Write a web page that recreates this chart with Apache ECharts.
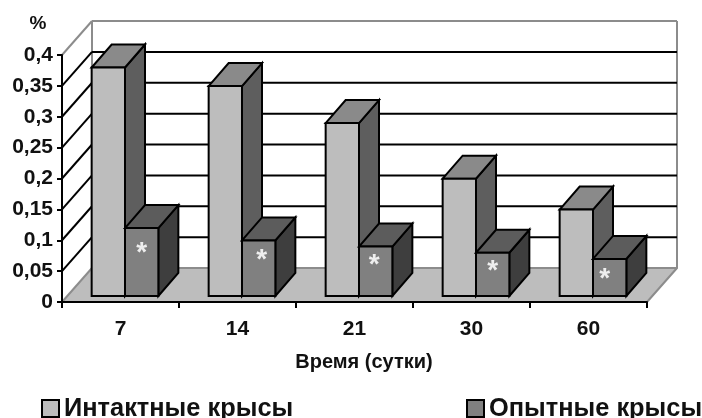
<!DOCTYPE html>
<html>
<head>
<meta charset="utf-8">
<style>html,body{margin:0;padding:0;background:#fff}#chart{width:702px;height:418px}</style>
<script src="https://cdn.jsdelivr.net/npm/echarts@6/dist/echarts.min.js"></script>
</head>
<body>
<div id="chart"></div>
<script>
// Содержание по срокам наблюдения, %
const days = ['7', '14', '21', '30', '60'];
const intact = [0.37, 0.34, 0.28, 0.19, 0.14];
const experimental = [0.11, 0.09, 0.08, 0.07, 0.06];
const valueTicks = [0, 0.05, 0.1, 0.15, 0.2, 0.25, 0.3, 0.35, 0.4];
const seriesNames = ['Интактные крысы', 'Опытные крысы'];

// Oblique projection of the plot box and of the bars inside it
const WALL_DX = 30, WALL_DY = -34;
const BAR_FRONT_DX = 4.5, BAR_FRONT_DY = -6;
const BAR_DEPTH_DX = 20, BAR_DEPTH_DY = -23;
const BAR_BAND_SHARE = 0.285;
const FRAME = '#8c8c8c', INK = '#000';

// Hand placement of the significance marks, per time point
const STAR_SHIFT_X = [0, 3, -1.5, 0, -5];
const STAR_SHIFT_Y = [25, 20, 19, 19, 20];

const FONT = '"Liberation Sans", Arial, sans-serif';

const intactShades = { front: '#bdbdbd', top: '#8a8a8a', side: '#5e5e5e' };
const experimentalShades = { front: '#808080', top: '#5c5c5c', side: '#3e3e3e' };

// One cuboid; side = 0 sits left of the band centre, side = 1 right of it
function renderBar(side, shades, star) {
  return function (params, api) {
    const top = api.coord([api.value(0), api.value(1)]);
    const base = api.coord([api.value(0), 0]);
    const w = api.size([1, 0])[0] * BAR_BAND_SHARE;
    const x0 = top[0] + BAR_FRONT_DX + (side - 1) * w;
    const x1 = x0 + w;
    const yT = top[1] + BAR_FRONT_DY;
    const yB = base[1] + BAR_FRONT_DY;
    const dx = BAR_DEPTH_DX, dy = BAR_DEPTH_DY;
    const edge = { stroke: INK, lineWidth: 2, lineJoin: 'miter' };
    const face = (points, fill) => ({
      type: 'polygon',
      shape: { points },
      style: Object.assign({ fill }, edge)
    });
    const children = [
      face([[x1, yT], [x1 + dx, yT + dy], [x1 + dx, yB + dy], [x1, yB]], shades.side),
      face([[x0, yT], [x0 + dx, yT + dy], [x1 + dx, yT + dy], [x1, yT]], shades.top),
      face([[x0, yT], [x1, yT], [x1, yB], [x0, yB]], shades.front)
    ];
    if (star) {
      const i = params.dataIndex;
      children.push({
        type: 'text',
        style: {
          text: '*',
          x: (x0 + x1) / 2 + STAR_SHIFT_X[i],
          y: yT + STAR_SHIFT_Y[i],
          fill: '#eee',
          align: 'center',
          verticalAlign: 'middle',
          font: 'bold 28px ' + FONT
        }
      });
    }
    return { type: 'group', children };
  };
}

// Back wall gridline plus its slanted continuation on the left wall
function renderWallLine(params, api) {
  const value = api.value(1);
  const p = api.coord([0, value]);
  const cs = params.coordSys;
  const left = cs.x, right = cs.x + cs.width;
  const isEdge = value === 0 || value === 0.4;
  const stroke = isEdge ? FRAME : INK;
  const line = (x1, y1, x2, y2) => ({
    type: 'line',
    shape: { x1, y1, x2, y2 },
    style: { stroke, lineWidth: 2 }
  });
  return {
    type: 'group',
    children: [
      line(left + WALL_DX, p[1] + WALL_DY, right + WALL_DX, p[1] + WALL_DY),
      line(left, p[1], left + WALL_DX, p[1] + WALL_DY)
    ]
  };
}

function renderFloor(params, api) {
  const p = api.coord([0, 0]);
  const cs = params.coordSys;
  const left = cs.x, right = cs.x + cs.width;
  const topY = cs.y + WALL_DY;
  const backX0 = left + WALL_DX, backX1 = right + WALL_DX;
  const backY = p[1] + WALL_DY;
  return {
    type: 'group',
    children: [
      {
        type: 'polygon',
        shape: { points: [[left, p[1]], [backX0, backY], [backX1, backY], [right, p[1]]] },
        style: { fill: '#bdbdbd', stroke: 'none' }
      },
      {
        type: 'polyline',
        shape: { points: [[backX0, backY], [backX0, topY]] },
        style: { stroke: FRAME, lineWidth: 2, fill: 'none' }
      },
      {
        type: 'polyline',
        shape: { points: [[backX1, topY], [backX1, backY], [right, p[1]]] },
        style: { stroke: FRAME, lineWidth: 2, fill: 'none' }
      }
    ]
  };
}

// Each series gets its own legend block, one under each half of the chart
function legendBlock(name, fill, left) {
  return {
    left,
    top: 391,
    padding: 5,
    itemWidth: 17,
    itemHeight: 17,
    textStyle: { fontFamily: FONT, fontWeight: 'bold', fontSize: 25.4, color: '#111' },
    data: [{ name, icon: 'rect', itemStyle: { color: fill, borderColor: INK, borderWidth: 2 } }]
  };
}

const chart = echarts.init(document.getElementById('chart'), null, { renderer: 'canvas' });
chart.setOption({
  animation: false,
  backgroundColor: '#fff',
  grid: { left: 62, top: 55, width: 585, height: 247, containLabel: false },
  legend: [
    legendBlock(seriesNames[0], intactShades.front, 36),
    legendBlock(seriesNames[1], experimentalShades.front, 461)
  ],
  xAxis: {
    type: 'category',
    data: days,
    z: 5,
    name: 'Время (сутки)',
    nameLocation: 'middle',
    nameGap: 50,
    nameTextStyle: { fontFamily: FONT, fontWeight: 'bold', fontSize: 20, color: '#111', padding: [0, 0, 0, 19] },
    axisLine: { lineStyle: { color: INK, width: 2 } },
    axisTick: { show: true, length: 6, lineStyle: { color: INK, width: 2 } },
    axisLabel: { margin: 17, fontFamily: FONT, fontWeight: 'bold', fontSize: 21, color: '#111' },
    splitLine: { show: false }
  },
  yAxis: {
    type: 'value',
    min: 0,
    max: 0.4,
    interval: 0.05,
    z: 5,
    name: '%',
    nameGap: 22,
    nameTextStyle: { fontFamily: FONT, fontWeight: 'bold', fontSize: 19, color: '#111', align: 'center', padding: [0, 48, 0, 0] },
    axisLine: { show: true, lineStyle: { color: INK, width: 2 } },
    axisTick: { show: true, length: 5, lineStyle: { color: INK, width: 2 } },
    axisLabel: {
      margin: 9,
      fontFamily: FONT,
      fontWeight: 'bold',
      fontSize: 21,
      color: '#111',
      formatter: v => String(+v.toFixed(2)).replace('.', ',')
    },
    splitLine: { show: false }
  },
  series: [
    {
      type: 'custom',
      silent: true,
      z: 1,
      renderItem: renderFloor,
      encode: { x: 0, y: 1 },
      data: [[0, 0]]
    },
    {
      type: 'custom',
      silent: true,
      z: 1,
      renderItem: renderWallLine,
      encode: { x: 0, y: 1 },
      data: valueTicks.map(v => [0, v])
    },
    {
      type: 'custom',
      name: seriesNames[0],
      z: 2,
      renderItem: renderBar(0, intactShades, false),
      encode: { x: 0, y: 1 },
      data: intact.map((v, i) => [i, v])
    },
    {
      type: 'custom',
      name: seriesNames[1],
      z: 3,
      renderItem: renderBar(1, experimentalShades, true),
      encode: { x: 0, y: 1 },
      data: experimental.map((v, i) => [i, v])
    }
  ]
});
</script>
</body>
</html>
